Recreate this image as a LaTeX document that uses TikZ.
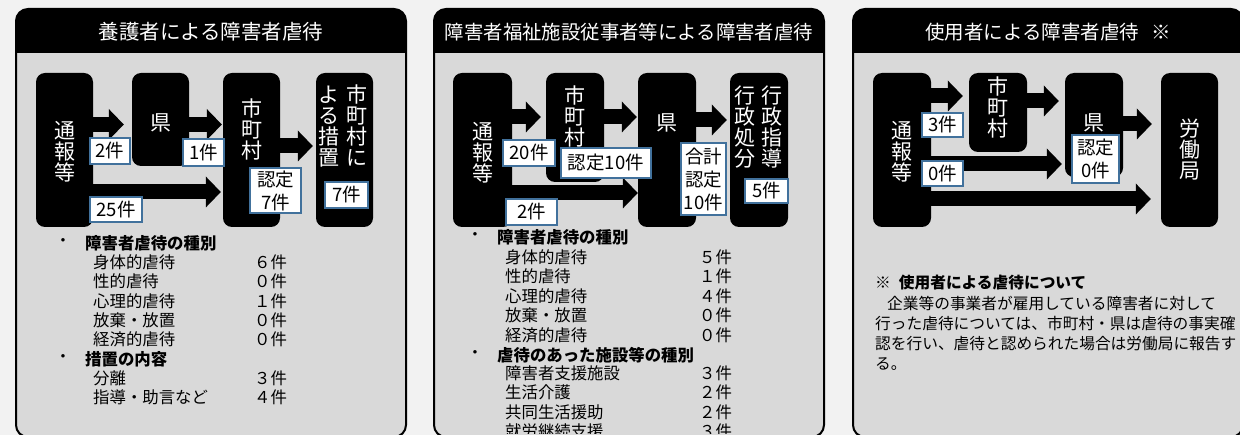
\documentclass[tikz,border=0pt]{standalone}
\usepackage{fontspec}
\setmainfont{Noto Sans CJK JP}
\usetikzlibrary{arrows.meta}
\definecolor{pagegray}{HTML}{F2F2F2}
\definecolor{panelgray}{HTML}{D9D9D9}
\definecolor{tagblue}{HTML}{41719C}
\newcommand\ttlfont{\fontsize{20.5}{22}\selectfont}
\newcommand\blkfont{\fontsize{21}{21}\selectfont}
\newcommand\tagfont{\fontsize{18.5}{23}\selectfont}
\newcommand\listfnt{\fontsize{16.4}{19}\selectfont}
\newcommand\memofnt{\fontsize{15.7}{20}\selectfont}

\begin{document}
\begin{tikzpicture}[x=1pt,y=1pt,yscale=-1,xscale=1,
  panelline/.style={line width=2pt,rounded corners=12pt},
  blk/.style={fill=black,rounded corners=9pt,inner sep=0pt,minimum width=57pt},
  blktext/.style={text=white,font=\blkfont,align=center,inner sep=0pt},
  ttl/.style={text=white,font=\ttlfont,inner sep=0pt},
  tag/.style={draw=tagblue,fill=white,line width=1.5pt,inner sep=0pt,font=\tagfont,align=center},
  barrow/.style={line width=15pt,-{Triangle[length=15pt,width=31pt,line width=0pt]},shorten >=2pt},
  listtxt/.style={anchor=west,inner sep=0pt,font=\listfnt},
  memo/.style={anchor=west,inner sep=0pt,font=\memofnt}]
%set diagram size: 1240 x 435
\useasboundingbox (0,0) rectangle (1240,435);
\fill[pagegray] (0,0) rectangle (1240,435);

%Shape: Panel 1
\begin{scope}
\clip[rounded corners=12pt] (16,9) rectangle (406,437);
\fill[black] (16,9) rectangle (406,53);
\fill[panelgray] (16,53) rectangle (406,437);
\end{scope}
\draw[panelline] (16,9) rectangle (406,437);
%Shape: Panel 2
\begin{scope}
\clip[rounded corners=12pt] (434,9) rectangle (824,437);
\fill[black] (434,9) rectangle (824,53);
\fill[panelgray] (434,53) rectangle (824,437);
\end{scope}
\draw[panelline] (434,9) rectangle (824,437);
%Shape: Panel 3
\begin{scope}
\clip[rounded corners=12pt] (853,9) rectangle (1243,437);
\fill[black] (853,9) rectangle (1243,53);
\fill[panelgray] (853,53) rectangle (1243,437);
\end{scope}
\draw[panelline] (853,9) rectangle (1243,437);

% Title Nodes
\node[ttl] (ttlA) at (211,32) {養護者による障害者虐待};
\node[ttl,font=\fontsize{19.4}{22}\selectfont] (ttlB) at (629,32) {障害者福祉施設従事者等による障害者虐待};
\node[ttl,font=\fontsize{19.5}{22}\selectfont] (ttlC) at (1048,32) {使用者による障害者虐待\hspace{12pt}※};

%Shape: Boxes of panel 1
\node[blk,minimum height=154pt] (tsuhoA) at (64.5,150) {};
\node[blk,minimum height=93pt] (kenA) at (160.5,119.5) {};
\node[blk,minimum height=154pt] (shiA) at (251.5,150) {};
\node[blk,minimum height=154pt] (sochiA) at (344.5,150) {};
%Shape: Boxes of panel 2
\node[blk,minimum width=59pt,minimum height=154pt] (tsuhoB) at (482.5,150) {};
\node[blk,minimum width=58pt,minimum height=109pt] (shiB) at (575,127.5) {};
\node[blk,minimum width=58pt,minimum height=154pt] (kenB) at (667,150) {};
\node[blk,minimum width=58pt,minimum height=154pt] (gyoseiB) at (759,150) {};
%Shape: Boxes of panel 3
\node[blk,minimum width=58pt,minimum height=154pt] (tsuhoC) at (902,150) {};
\node[blk,minimum width=58pt,minimum height=79pt] (shiC) at (998,112.5) {};
\node[blk,minimum width=58pt,minimum height=104pt] (kenC) at (1094,125) {};
\node[blk,minimum height=154pt] (rodoC) at (1189.5,150) {};

% Text Node
\node[blktext] (tsuhoAtxt) at (64.5,152) {通\\報\\等};
\node[blktext] (kenAtxt) at (160.5,123) {県};
\node[blktext] (shiAtxt) at (251.5,129) {市\\町\\村};
\node[blktext] (sochiAtxt) at (343,126) {よ\hspace{8pt}市\\る\hspace{8pt}町\\措\hspace{8pt}村\\置\hspace{8pt}に};
\node[blktext] (tsuhoBtxt) at (482.5,153) {通\\報\\等};
\node[blktext] (shiBtxt) at (575,116) {市\\町\\村};
\node[blktext] (kenBtxt) at (667,123) {県};
\node[blktext] (gyoseiBtxt) at (758.5,127) {行\hspace{6pt}行\\政\hspace{6pt}政\\処\hspace{6pt}指\\分\hspace{6pt}導};
\node[blktext] (tsuhoCtxt) at (902,152) {通\\報\\等};
\node[blktext] (shiCtxt) at (998,107) {市\\町\\村};
\node[blktext] (kenCtxt) at (1094,123) {県};
\node[blktext] (rodoCtxt) at (1189.5,150) {労\\働\\局};

%Straight Lines: arrows of panel 1
\draw[barrow,shorten >=8pt] (tsuhoA.east |- 0,124.5) -- (kenA.west |- 0,124.5);
\draw[barrow,shorten >=1pt] (kenA.east |- 0,124.5) -- (shiA.west |- 0,124.5);
\draw[barrow,shorten >=3pt] (shiA.east |- 0,146) -- (sochiA.west |- 0,146);
\draw[barrow] (tsuhoA.east |- 0,192) -- (shiA.west |- 0,192);
%Straight Lines: arrows of panel 2
\draw[barrow,shorten >=5pt] (tsuhoB.east |- 0,117) -- (shiB.west |- 0,117);
\draw[barrow,shorten >=1pt] (shiB.east |- 0,117) -- (kenB.west |- 0,117);
\draw[barrow,shorten >=3pt] (kenB.east |- 0,120) -- (gyoseiB.west |- 0,120);
\draw[barrow,shorten >=0pt] (tsuhoB.east |- 0,193) -- (kenB.west |- 0,193);
%Straight Lines: arrows of panel 3
\draw[barrow,shorten >=6pt] (tsuhoC.east |- 0,96) -- (shiC.west |- 0,96);
\draw[barrow,shorten >=6pt] (shiC.east |- 0,101) -- (kenC.west |- 0,101);
\draw[barrow,shorten >=9pt] (kenC.east |- 0,124) -- (rodoC.west |- 0,124);
\draw[barrow,shorten >=3pt] (tsuhoC.east |- 0,164) -- (kenC.west |- 0,164);
\draw[barrow,shorten >=10pt] (tsuhoC.east |- 0,199) -- (rodoC.west |- 0,199);

% Count tags
\node[tag,minimum width=40pt,minimum height=26pt] (tagA1) at (110,151) {2件};
\node[tag,minimum width=41pt,minimum height=27pt] (tagA2) at (203.5,152.5) {1件};
\node[tag,minimum width=51pt,minimum height=45pt] (tagA3) at (275.5,190.5) {認定\\7件};
\node[tag,minimum width=43pt,minimum height=26pt] (tagA4) at (346.5,195) {7件};
\node[tag,minimum width=52pt,minimum height=25pt] (tagA5) at (116,209.5) {25件};
\node[tag,minimum width=52pt,minimum height=26pt] (tagB1) at (529,153) {20件};
\node[tag,minimum width=90pt,minimum height=30pt] (tagB2) at (606,163) {認定10件};
\node[tag,minimum width=45pt,minimum height=72pt] (tagB3) at (703.5,179) {合計\\認定\\10件};
\node[tag,minimum width=43pt,minimum height=24pt] (tagB4) at (766.5,191) {5件};
\node[tag,minimum width=51pt,minimum height=26pt] (tagB5) at (531.5,212) {2件};
\node[tag,minimum width=41pt,minimum height=24pt] (tagC1) at (942.5,125) {3件};
\node[tag,minimum width=41pt,minimum height=25pt] (tagC2) at (942.5,173.5) {0件};
\node[tag,minimum width=47pt,minimum height=48pt] (tagC3) at (1095.5,159) {認定\\0件};

% Text Node: list of panel 1
\node[listtxt,anchor=center] (dotA1) at (63,243) {・};
\node[listtxt] (headA1) at (85,243) {\bfseries 障害者虐待の種別};
\node[listtxt] (itemA1) at (93,262) {身体的虐待};
\node[listtxt] (itemA2) at (93,281) {性的虐待};
\node[listtxt] (itemA3) at (93,301) {心理的虐待};
\node[listtxt] (itemA4) at (93,320) {放棄・放置};
\node[listtxt] (itemA5) at (93,339) {経済的虐待};
\node[listtxt,anchor=center] (dotA2) at (63,359) {・};
\node[listtxt] (headA2) at (85,359) {\bfseries 措置の内容};
\node[listtxt] (itemA6) at (93,378) {分離};
\node[listtxt] (itemA7) at (93,397) {指導・助言など};
\node[listtxt] (numA1) at (254,262) {６件};
\node[listtxt] (numA2) at (254,281) {０件};
\node[listtxt] (numA3) at (254,301) {１件};
\node[listtxt] (numA4) at (254,320) {０件};
\node[listtxt] (numA5) at (254,339) {０件};
\node[listtxt] (numA6) at (254,378) {３件};
\node[listtxt] (numA7) at (254,397) {４件};

% Text Node: list of panel 2
\begin{scope}
\clip (434,53) rectangle (824,434);
\node[listtxt,anchor=center] (dotB1) at (475,237) {・};
\node[listtxt] (headB1) at (497,237) {\bfseries 障害者虐待の種別};
\node[listtxt] (itemB1) at (505,257) {身体的虐待};
\node[listtxt] (itemB2) at (505,276) {性的虐待};
\node[listtxt] (itemB3) at (505,296) {心理的虐待};
\node[listtxt] (itemB4) at (505,315) {放棄・放置};
\node[listtxt] (itemB5) at (505,335) {経済的虐待};
\node[listtxt,anchor=center] (dotB2) at (475,355) {・};
\node[listtxt] (headB2) at (497,355) {\bfseries 虐待のあった施設等の種別};
\node[listtxt] (itemB6) at (505,373) {障害者支援施設};
\node[listtxt] (itemB7) at (505,392) {生活介護};
\node[listtxt] (itemB8) at (505,412) {共同生活援助};
\node[listtxt] (itemB9) at (505,431) {就労継続支援};
\node[listtxt] (numB1) at (699,257) {５件};
\node[listtxt] (numB2) at (699,276) {１件};
\node[listtxt] (numB3) at (699,296) {４件};
\node[listtxt] (numB4) at (699,315) {０件};
\node[listtxt] (numB5) at (699,335) {０件};
\node[listtxt] (numB6) at (699,373) {３件};
\node[listtxt] (numB7) at (699,392) {２件};
\node[listtxt] (numB8) at (699,412) {２件};
\node[listtxt] (numB9) at (699,431) {３件};
\end{scope}

% Text Node: note of panel 3
\node[memo] (memoC0) at (875,283) {※\hspace{8pt}{\bfseries 使用者による虐待について}};
\node[memo] (memoC1) at (875,304) {\hspace{12pt}企業等の事業者が雇用している障害者に対して};
\node[memo] (memoC2) at (875,324) {行った虐待については、市町村・県は虐待の事実確};
\node[memo] (memoC3) at (875,344) {認を行い、虐待と認められた場合は労働局に報告す};
\node[memo] (memoC4) at (875,364) {る。};

\end{tikzpicture}
\end{document}
